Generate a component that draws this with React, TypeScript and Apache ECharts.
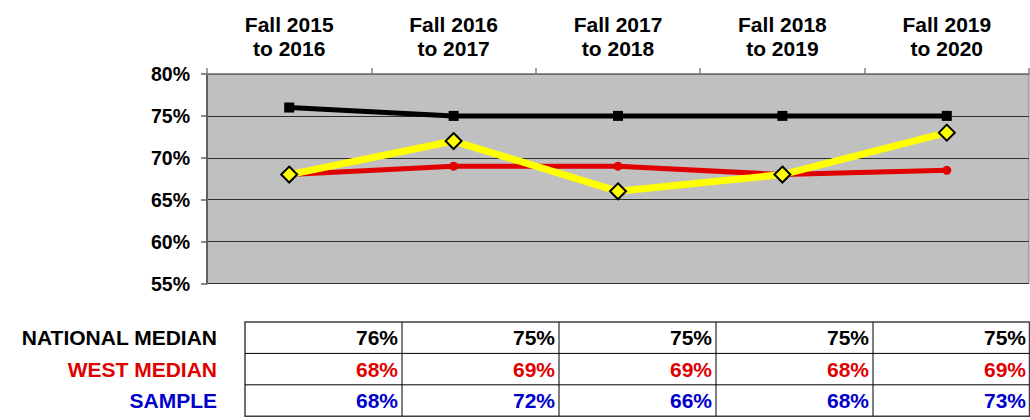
import React, { useEffect, useRef } from "react";
import * as echarts from "echarts";

const categories = [
  "Fall 2015\nto 2016",
  "Fall 2016\nto 2017",
  "Fall 2017\nto 2018",
  "Fall 2018\nto 2019",
  "Fall 2019\nto 2020",
];
const nationalMedian = [76, 75, 75, 75, 75];
const westMedian = [68, 69, 69, 68, 68.5];
const sample = [68, 72, 66, 68, 73];

const rowLabels = ["NATIONAL MEDIAN", "WEST MEDIAN", "SAMPLE"];
const rowColors = ["#000000", "#e00000", "#0000cc"];

const FONT = '"Liberation Sans", Arial, Helvetica, sans-serif';

export default function App() {
  const ref = useRef<HTMLDivElement>(null);

  useEffect(() => {
    document.body.style.margin = "0";
    if (!ref.current) return;
    const chart = echarts.init(ref.current, null, { renderer: "svg" });

    const tableLeft = 245;
    const tableTop = 322;
    const rowH = 31.4;
    const colW = 157;
    const nCols = categories.length;
    const tableRight = tableLeft + colW * nCols - 0.5;
    const tableBottom = tableTop + rowH * 3;

    const rows = [nationalMedian, westMedian, sample];
    const graphics: any[] = [];
    graphics.push({
      type: "rect",
      shape: { x: tableLeft, y: tableTop, width: tableRight - tableLeft, height: tableBottom - tableTop },
      style: { fill: "#ffffff", stroke: "#404040", lineWidth: 1.5 },
    });
    for (let r = 1; r < 3; r++) {
      graphics.push({
        type: "line",
        shape: { x1: tableLeft, y1: tableTop + rowH * r, x2: tableRight, y2: tableTop + rowH * r },
        style: { stroke: "#000", lineWidth: 1 },
      });
    }
    for (let c = 1; c < nCols; c++) {
      graphics.push({
        type: "line",
        shape: { x1: tableLeft + colW * c, y1: tableTop, x2: tableLeft + colW * c, y2: tableBottom },
        style: { stroke: "#000", lineWidth: 1 },
      });
    }
    rows.forEach((vals, r) => {
      const cy = tableTop + rowH * r + rowH / 2;
      graphics.push({
        type: "text",
        style: {
          text: rowLabels[r],
          x: 217,
          y: cy,
          fill: rowColors[r],
          fontSize: 21,
          fontWeight: "bold",
          fontFamily: FONT,
          align: "right",
          verticalAlign: "middle",
          textAlign: "right",
          textVerticalAlign: "middle",
        },
      });
      vals.forEach((v, c) => {
        graphics.push({
          type: "text",
          style: {
            text: Math.round(v) + "%",
            x: tableLeft + colW * (c + 1) - 4,
            y: cy,
            fill: rowColors[r],
            fontSize: 21,
            fontWeight: "bold",
            fontFamily: FONT,
            align: "right",
            verticalAlign: "middle",
            textAlign: "right",
            textVerticalAlign: "middle",
          },
        });
      });
    });

    chart.setOption({
      animation: false,
      grid: {
        left: 207,
        right: 1,
        top: 74,
        bottom: 136.5,
        show: true,
        backgroundColor: "#c0c0c0",
        borderColor: "#808080",
        borderWidth: 1,
      },
      xAxis: {
        type: "category",
        data: categories,
        position: "top",
        boundaryGap: true,
        axisLine: { show: true, lineStyle: { color: "#808080", width: 1.5 } },
        axisTick: { show: true, length: 6, inside: false, lineStyle: { color: "#808080", width: 1.5 } },
        axisLabel: {
          fontSize: 21,
          fontWeight: "bold",
          fontFamily: FONT,
          color: "#000",
          lineHeight: 24,
          margin: 14,
        },
        splitLine: { show: false },
      },
      yAxis: {
        type: "value",
        min: 55,
        max: 80,
        interval: 5,
        axisLine: { show: true, lineStyle: { color: "#606060", width: 2 } },
        axisTick: { show: true, length: 6, lineStyle: { color: "#606060", width: 1.5 } },
        axisLabel: {
          formatter: "{value}%",
          fontSize: 19.5,
          fontWeight: "bold",
          fontFamily: FONT,
          color: "#000",
          margin: 17,
        },
        splitLine: { show: true, lineStyle: { color: "#303030", width: 1 } },
      },
      series: [
        {
          name: "NATIONAL MEDIAN",
          type: "line",
          data: nationalMedian,
          symbol: "rect",
          symbolSize: 10,
          lineStyle: { color: "#000000", width: 5 },
          itemStyle: { color: "#000000" },
          z: 2,
        },
        {
          name: "WEST MEDIAN",
          type: "line",
          data: westMedian,
          symbol: "circle",
          symbolSize: 9,
          lineStyle: { color: "#e00000", width: 5 },
          itemStyle: { color: "#e00000" },
          z: 3,
        },
        {
          name: "SAMPLE",
          type: "line",
          data: sample,
          symbol: "diamond",
          symbolSize: 16,
          lineStyle: { color: "#ffff00", width: 7 },
          itemStyle: { color: "#ffff00", borderColor: "#000000", borderWidth: 2 },
          z: 4,
        },
      ],
      graphic: graphics,
    });

    return () => chart.dispose();
  }, []);

  return <div ref={ref} style={{ width: 1030, height: 420 }} />;
}
